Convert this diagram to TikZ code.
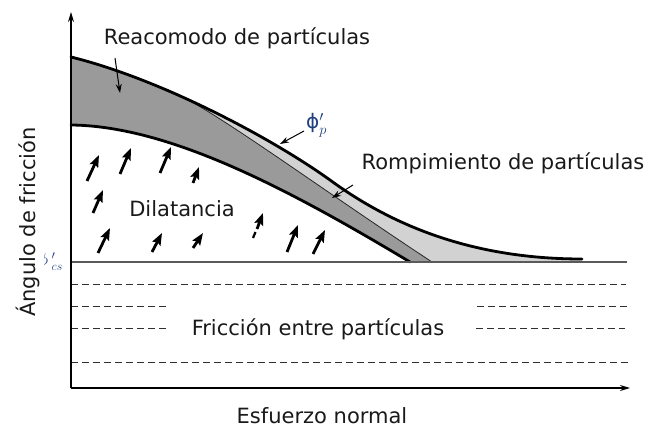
\documentclass[tikz,border=0pt]{standalone}
\usepackage{fontspec}
\setmainfont{DejaVu Sans}
\usetikzlibrary{arrows.meta}
\definecolor{darkfill}{HTML}{9A9A9A}
\definecolor{lightfill}{HTML}{D2D2D2}
\definecolor{baseg}{HTML}{5A5A5A}
\definecolor{dashg}{HTML}{303030}
\definecolor{phiblue}{HTML}{1F3F80}
\begin{document}
\begin{tikzpicture}[x=1pt,y=-1pt,
  lbl/.style={font=\fontsize{21}{25}\selectfont, inner sep=0pt, text=black!90},
  dil/.style={line width=2.8pt, -{Stealth[length=12pt,width=9pt,inset=2pt]}},
  ptr/.style={line width=1pt, -{Stealth[length=9pt,width=6pt]}},
  dsh/.style={dashg, line width=1pt, dash pattern=on 7pt off 4pt},
  axis/.style={line width=1.4pt, -{Stealth[length=10pt,width=6pt]}},
  thick curve/.style={line width=2.8pt, line join=round, line cap=round}]
\useasboundingbox (0,0) rectangle (648,430);

% fills
\begin{scope}
  \clip (71,57) .. controls (160,79) and (270,137) .. (330,180)
        .. controls (390,224) and (470,259) .. (582,259)
        -- (582,262) -- (410,262)
        .. controls (290,190) and (170,126) .. (71,125) -- cycle;
  \fill[lightfill] (60,40) rectangle (600,270);
  \fill[darkfill] (160,87) .. controls (200,99) and (300,175) .. (432,262)
        -- (432,280) -- (60,280) -- (60,40) -- (160,40) -- cycle;
\end{scope}

% curves
\draw[line width=0.8pt, black!85] (160,87) .. controls (200,99) and (300,175) .. (432,262);
\draw[thick curve] (71,125) .. controls (170,126) and (290,190) .. (410,262);
\draw[thick curve] (71,57) .. controls (160,79) and (270,137) .. (330,180)
        .. controls (390,224) and (470,259) .. (582,259);

% phi'cs line and dashed lines
\coordinate (cs0) at (71,262);
\coordinate (cs1) at (627,262);
\draw[baseg, line width=2pt] (cs0) -- (cs1);
\draw[dsh] (71,285) -- (626,285);
\draw[dsh] (71,307) -- (168,307);
\draw[dsh] (477,307) -- (628,307);
\draw[dsh] (71,329) -- (168,329);
\draw[dsh] (476,329) -- (625,329);
\draw[dsh] (71,362) -- (628,362);

% axes
\coordinate (O) at (71,388);
\coordinate (ytip) at (71,12);
\coordinate (xtip) at (630,388);
\draw[axis] (O) -- (ytip);
\draw[axis] (O) -- (xtip);

% labels
\node[lbl, anchor=base] (reac) at (237,45) {Reacomodo de partículas};
\node[lbl, anchor=base] (romp) at (503,170) {Rompimiento de partículas};
\node[lbl, anchor=base] (dila) at (182,217) {Dilatancia};
\node[lbl, anchor=base] (fric) at (318,335) {Fricción entre partículas};
\node[lbl, anchor=base] (esf) at (322,423) {Esfuerzo normal};
\node[lbl, anchor=base, rotate=90] (ang) at (35,222) {Ángulo de fricción};
\node[inner sep=0pt, anchor=base west, text=phiblue, font=\fontsize{20}{24}\selectfont] (phip) at (306,129) {ϕ$'_{p}$};
\begin{scope}
  \clip (44,245) rectangle (69,282);
  \node[inner sep=0pt, anchor=base east, text=phiblue, font=\fontsize{17}{20}\selectfont] (phics) at (63,266) {$\phi\kern3.5pt{}'_{cs}$};
\end{scope}

% label pointers
\coordinate (r0) at (115,58); \coordinate (r1) at (120,93);
\draw[ptr] (r0) -- (r1);
\coordinate (p0) at (304,131); \coordinate (p1) at (280,144);
\draw[ptr] (p0) -- (p1);
\coordinate (q0) at (353,185); \coordinate (q1) at (332,198);
\draw[ptr] (q0) -- (q1);

% dilatancy arrows
\foreach \ax/\ay/\bx/\by in {87/181/99/155, 120/174/131/148, 160/173/171/147, 193/183/199/167,
                   93/213/103/190, 98/253/110/228, 152/252/162/233, 193/248/203/233,
                   287/252/298/225, 313/254/325/230} {
  \draw[dil] (\ax,\ay) -- (\bx,\by);
}
\draw[line width=2.2pt] (253,238) -- (255.5,232);
\draw[dil] (257,229) -- (263,213);
\end{tikzpicture}
\end{document}
